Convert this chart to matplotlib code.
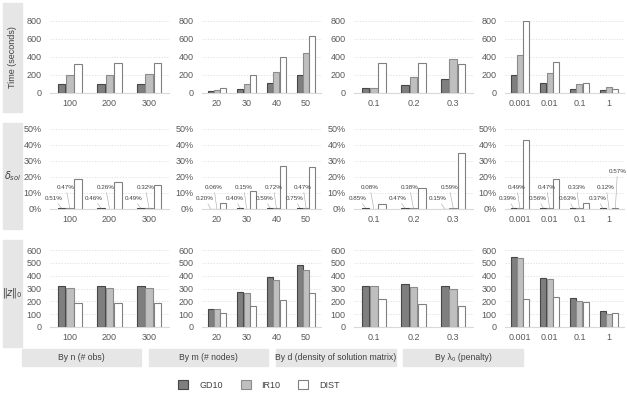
import matplotlib
matplotlib.use('Agg')
import matplotlib.pyplot as plt
from matplotlib.patches import Rectangle, Patch
from matplotlib.ticker import FuncFormatter
import numpy as np

plt.rcParams['font.family'] = ['Liberation Sans', 'DejaVu Sans']

methods = ['GD10', 'IR10', 'DIST']
face_colors = ['#7f7f7f', '#bfbfbf', '#ffffff']
edge_colors = ['#474747', '#8c8c8c', '#808080']

# category labels per column
cats_n = ['100', '200', '300']
cats_m = ['20', '30', '40', '50']
cats_d = ['0.1', '0.2', '0.3']
cats_lam = ['0.001', '0.01', '0.1', '1']

# Time (seconds): [GD10, IR10, DIST] per category
time_n = [[100, 95, 105], [205, 200, 210], [325, 330, 330]]
time_m = [[25, 50, 115, 205], [35, 100, 235, 450], [60, 205, 405, 635]]
time_d = [[55, 85, 155], [60, 175, 375], [335, 330, 320]]
time_lam = [[195, 110, 50, 35], [425, 220, 105, 70], [800, 345, 115, 40]]

# delta_sol (percent)
dsol_n = [[0.51, 0.46, 0.49], [0.47, 0.26, 0.32], [19, 17, 15]]
dsol_m = [[0.20, 0.40, 0.59, 0.75], [0.06, 0.15, 0.72, 0.47], [3.5, 11, 27, 26]]
dsol_d = [[0.85, 0.47, 0.15], [0.08, 0.38, 0.59], [3, 13, 35]]
dsol_lam = [[0.39, 0.56, 0.63, 0.37], [0.49, 0.47, 0.33, 0.12], [43, 19, 4, 0.57]]

# ||z||_0
z_n = [[320, 320, 320], [305, 305, 303], [190, 190, 187]]
z_m = [[140, 270, 392, 485], [140, 262, 370, 448], [110, 165, 210, 263]]
z_d = [[318, 332, 320], [318, 308, 295], [220, 183, 162]]
z_lam = [[548, 385, 228, 125], [540, 373, 205, 105], [218, 233, 192, 110]]

col_titles = ['By n (# obs)', 'By m (# nodes)', 'By d (density of solution matrix)',
              'By λ₀ (penalty)']
row_titles = ['Time (seconds)', r'$\delta_{sol}$', r'$\Vert z\Vert_0$']

columns = [cats_n, cats_m, cats_d, cats_lam]
rows = [[time_n, time_m, time_d, time_lam],
        [dsol_n, dsol_m, dsol_d, dsol_lam],
        [z_n, z_m, z_d, z_lam]]
ylims = [(800, 200), (50, 10), (600, 100)]

W, H = 627, 399
fig = plt.figure(figsize=(W / 100, H / 100), dpi=100)

def fx(px):
    return px / W

def fy(py):
    return 1 - py / H

# axes placement in pixels
col_left = [50, 202, 354, 505]
col_w = 119
row_top = [21, 129, 250]
row_bot = [93, 209, 327]

# grey label boxes
row_box = [(3, 112), (123, 229), (240, 347)]
col_box = [(22, 141), (149, 268), (276, 396), (403, 523)]
grey = '#e6e6e6'
txt_col = '#404040'

for (t, b), title in zip(row_box, row_titles):
    fig.patches.append(Rectangle((fx(3), fy(b)), fx(19), (b - t) / H,
                                 transform=fig.transFigure, color=grey, zorder=0))
    if title.startswith('Time'):
        fig.text(fx(12.5), fy((t + b) / 2), title, rotation=90, ha='center',
                 va='center', fontsize=6.5, color=txt_col)
    else:
        fig.text(fx(12.5), fy((t + b) / 2), title, ha='center', va='center',
                 fontsize=7, color=txt_col)

for (l, r), title in zip(col_box, col_titles):
    fig.patches.append(Rectangle((fx(l), fy(366)), fx(r - l), 17 / H,
                                 transform=fig.transFigure, color=grey, zorder=0))
    fig.text(fx((l + r) / 2), fy(357.5), title, ha='center', va='center',
             fontsize=6.2, color=txt_col)

bw = 0.2
offs = [-0.21, 0.0, 0.21]

for ri in range(3):
    ymax, ystep = ylims[ri]
    for ci in range(4):
        cats = columns[ci]
        data = rows[ri][ci]
        ax = fig.add_axes([fx(col_left[ci]), fy(row_bot[ri]), fx(col_w),
                           (row_bot[ri] - row_top[ri]) / H])
        x = np.arange(len(cats))
        for k in range(3):
            ax.bar(x + offs[k], data[k], width=bw, color=face_colors[k],
                   edgecolor=edge_colors[k], linewidth=0.8, zorder=3)
        ax.set_xlim(-0.5, len(cats) - 0.5)
        ax.set_ylim(0, ymax)
        ax.set_yticks(np.arange(0, ymax + 1, ystep))
        ax.set_xticks(x)
        ax.set_xticklabels(cats)
        if ri == 1:
            ax.yaxis.set_major_formatter(FuncFormatter(lambda v, p: f'{v:.0f}%'))
        ax.grid(axis='y', linestyle=(0, (2, 2)), color='#d9d9d9', linewidth=0.5, zorder=0)
        for s in ['top', 'right', 'left']:
            ax.spines[s].set_visible(False)
        ax.spines['bottom'].set_color('#d9d9d9')
        ax.spines['bottom'].set_linewidth(0.8)
        ax.tick_params(length=0, labelsize=6.5, labelcolor='#595959', pad=4)
        ax.tick_params(axis='y', pad=6)

        if ri == 1:
            for i in range(len(cats)):
                pos = [(i - 0.4, 5), (i - 0.1, 12)]
                for k in range(2):
                    ax.annotate(f'{data[k][i]:.2f}%', xy=(i + offs[k], data[k][i]),
                                xytext=pos[k], fontsize=4.5, color='#404040',
                                ha='center', va='bottom',
                                arrowprops=dict(arrowstyle='-', color='#a6a6a6',
                                                lw=0.4, shrinkA=0, shrinkB=0))
                if data[2][i] < 1:
                    ax.annotate(f'{data[2][i]:.2f}%', xy=(i + offs[2], data[2][i]),
                                xytext=(i + 0.28, 22), fontsize=4.5, color='#404040',
                                ha='center', va='bottom',
                                arrowprops=dict(arrowstyle='-', color='#a6a6a6',
                                                lw=0.4, shrinkA=0, shrinkB=0))

handles = [Patch(facecolor=face_colors[k], edgecolor=edge_colors[k], linewidth=0.8,
                 label=methods[k]) for k in range(3)]
fig.legend(handles=handles, loc='center', bbox_to_anchor=(fx(259), fy(385)),
           ncol=3, frameon=False, fontsize=6.5, handlelength=1.1, handleheight=1.1,
           columnspacing=2.0, handletextpad=1.2, labelcolor='#404040')

fig.savefig('out.png', dpi=100)
